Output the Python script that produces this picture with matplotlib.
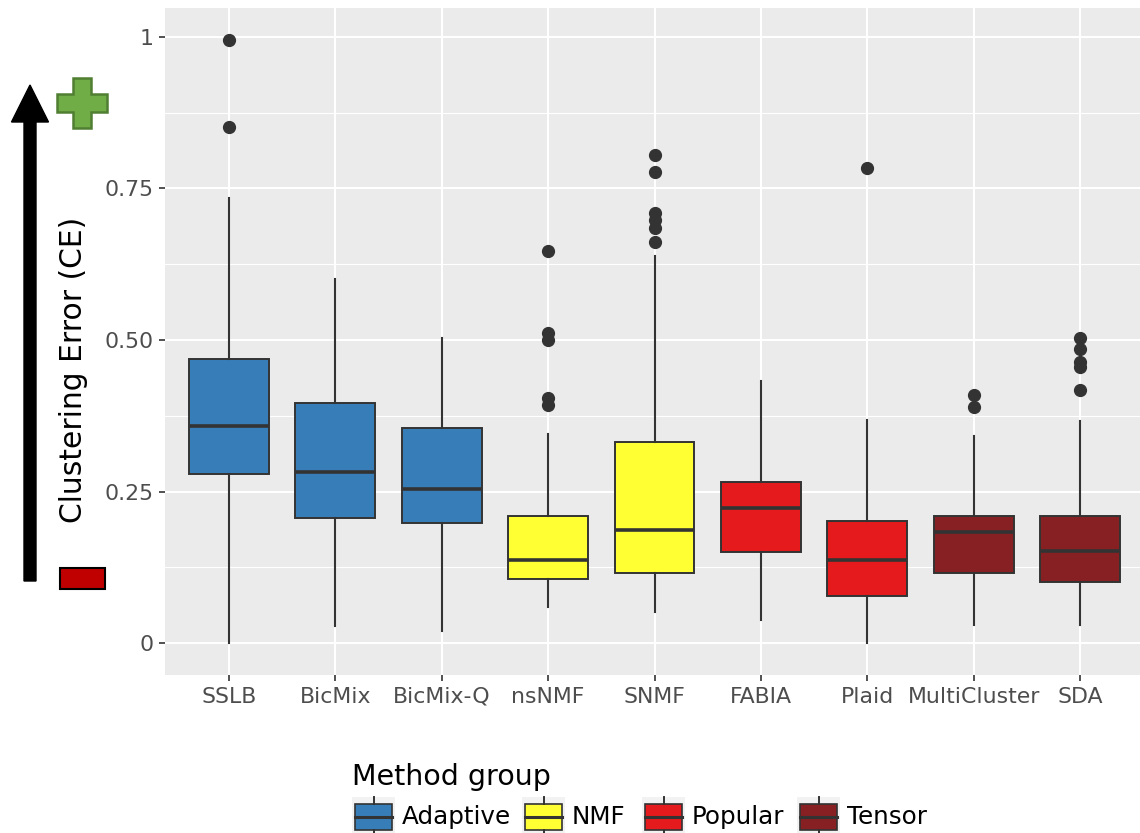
import matplotlib
matplotlib.use("Agg")
import matplotlib.pyplot as plt
from matplotlib.patches import Rectangle, Polygon, FancyArrow
from matplotlib.ticker import FixedLocator

# ---------------- data ----------------
methods = ["SSLB", "BicMix", "BicMix-Q", "nsNMF", "SNMF", "FABIA", "Plaid", "MultiCluster", "SDA"]
groups = ["Adaptive", "Adaptive", "Adaptive", "NMF", "NMF", "Popular", "Popular", "Tensor", "Tensor"]
whis_lo = [0.000, 0.028, 0.020, 0.059, 0.051, 0.038, 0.000, 0.030, 0.030]
q1 = [0.279, 0.206, 0.198, 0.106, 0.116, 0.150, 0.078, 0.116, 0.101]
median = [0.358, 0.282, 0.254, 0.137, 0.186, 0.223, 0.137, 0.183, 0.152]
q3 = [0.469, 0.396, 0.355, 0.210, 0.332, 0.266, 0.201, 0.210, 0.210]
whis_hi = [0.734, 0.601, 0.503, 0.345, 0.639, 0.432, 0.368, 0.342, 0.366]
outliers = [
    [0.995, 0.851],
    [],
    [],
    [0.647, 0.512, 0.500, 0.404, 0.393],
    [0.805, 0.777, 0.710, 0.698, 0.685, 0.662],
    [],
    [0.784],
    [0.409, 0.389],
    [0.503, 0.485, 0.464, 0.455, 0.417],
]
group_names = ["Adaptive", "NMF", "Popular", "Tensor"]
group_colors = {"Adaptive": "#377EB8", "NMF": "#FFFF33", "Popular": "#E41A1C", "Tensor": "#862023"}
y_ticks = [0, 0.25, 0.5, 0.75, 1]
y_ticklabels = ["0", "0.25", "0.50", "0.75", "1"]
y_label = "Clustering Error (CE)"
legend_title = "Method group"

# ---------------- figure ----------------
W, H = 1140, 833
fig = plt.figure(figsize=(W / 100, H / 100), dpi=100)
ax = fig.add_axes([165 / W, 1 - 675 / H, (1144 - 165) / W, (675 - 8) / H])

edge = "#333333"
stats = []
for i, m in enumerate(methods):
    stats.append(dict(label=m, whislo=whis_lo[i], q1=q1[i], med=median[i], q3=q3[i],
                      whishi=whis_hi[i], fliers=outliers[i]))
positions = list(range(1, len(methods) + 1))
bp = ax.bxp(stats, positions=positions, widths=0.75, patch_artist=True, showcaps=False,
            boxprops=dict(edgecolor=edge, linewidth=1.4),
            medianprops=dict(color=edge, linewidth=2.6),
            whiskerprops=dict(color=edge, linewidth=1.5),
            flierprops=dict(marker="o", markerfacecolor=edge, markeredgecolor=edge, markersize=8.5),
            zorder=3)
for patch, g in zip(bp["boxes"], groups):
    patch.set_facecolor(group_colors[g])

ax.set_facecolor("#EBEBEB")
ax.set_xlim(0.4, len(methods) + 0.6)
ax.set_ylim(-0.0525, 1.0475)
ax.yaxis.set_major_locator(FixedLocator(y_ticks))
ax.set_yticklabels(y_ticklabels)
ax.yaxis.set_minor_locator(FixedLocator([0.125, 0.375, 0.625, 0.875]))
ax.set_xticks(positions)
ax.set_xticklabels(methods)
ax.grid(which="major", color="white", linewidth=1.5, zorder=0)
ax.grid(which="minor", axis="y", color="white", linewidth=0.8, zorder=0)
ax.set_axisbelow(True)
for s in ax.spines.values():
    s.set_visible(False)
ax.tick_params(axis="both", which="major", length=4.5, width=1.2, color=edge,
               labelcolor="#4D4D4D", labelsize=15.8, pad=4)
ax.tick_params(axis="y", which="minor", length=0)

# ---------------- overlay annotations (pixel coords) ----------------
ov = fig.add_axes([0, 0, 1, 1], zorder=5)
ov.set_xlim(0, W)
ov.set_ylim(H, 0)
ov.axis("off")
ov.patch.set_alpha(0)

ov.add_patch(FancyArrow(30, 581, 0, -496, width=12, head_width=37, head_length=37,
                        length_includes_head=True, color="black"))
cx, cy, a, t = 82, 103, 25, 9
plus = [(cx - t, cy - a), (cx + t, cy - a), (cx + t, cy - t), (cx + a, cy - t), (cx + a, cy + t),
        (cx + t, cy + t), (cx + t, cy + a), (cx - t, cy + a), (cx - t, cy + t), (cx - a, cy + t),
        (cx - a, cy - t), (cx - t, cy - t)]
ov.add_patch(Polygon(plus, closed=True, facecolor="#70AD47", edgecolor="#507E32", linewidth=1.8))
ov.add_patch(Rectangle((60, 568), 45, 21, facecolor="#C00000", edgecolor="black", linewidth=1.5))
ov.text(74, 370, y_label, rotation=90, ha="center", va="center", fontsize=21.4, color="black")

# legend
ov.text(352, 777, legend_title, ha="left", va="center", fontsize=20.5, color="black")
key_x = [352, 522, 642, 797]
for kx, g in zip(key_x, group_names):
    ov.add_patch(Rectangle((kx, 797), 43, 40, facecolor="#F2F2F2", edgecolor="none"))
    bx0, bx1 = kx + 3, kx + 40
    midx = kx + 21.5
    ov.plot([midx, midx], [797, 804], color=edge, lw=1.4)
    ov.plot([midx, midx], [830, 837], color=edge, lw=1.4)
    ov.add_patch(Rectangle((bx0, 804), bx1 - bx0, 26, facecolor=group_colors[g],
                           edgecolor=edge, linewidth=1.2))
    ov.plot([bx0, bx1], [817, 817], color=edge, lw=2.2)
    ov.text(kx + 50, 817, g, ha="left", va="center", fontsize=17.7, color="black")

fig.savefig("out.png", dpi=100)
